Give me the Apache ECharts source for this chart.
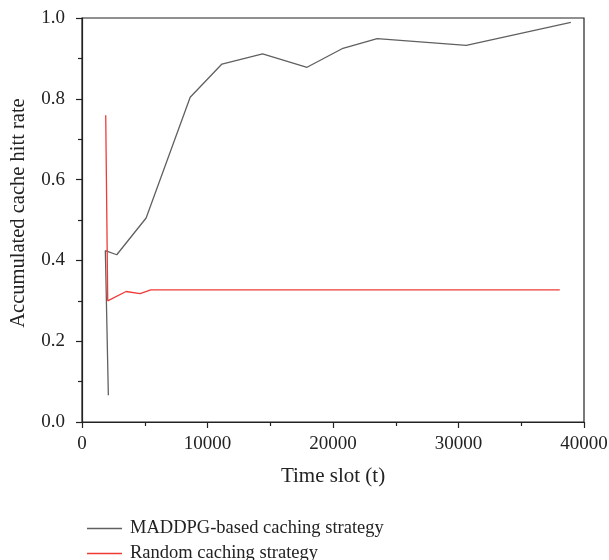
<!DOCTYPE html>
<html>
<head>
<meta charset="utf-8">
<script src="https://cdn.jsdelivr.net/npm/echarts@6/dist/echarts.min.js"></script>
<style>html,body{margin:0;padding:0;background:#fff}#c{width:609px;height:560px}</style>
</head>
<body>
<div id="c"></div>
<script>
const maddpgX = [2100, 1860, 2770, 5110, 8620, 11150, 14390, 17930, 20720, 23520, 30620, 38950];
const maddpgY = [0.066, 0.424, 0.414, 0.505, 0.804, 0.886, 0.911, 0.878, 0.924, 0.949, 0.932, 0.989];
const randomX = [1890, 2050, 3510, 4630, 5480, 38070];
const randomY = [0.759, 0.300, 0.323, 0.318, 0.327, 0.327];
const seriesNames = ['MADDPG-based caching strategy', 'Random caching strategy'];
const xName = 'Time slot (t)';
const yName = 'Accumulated cache hitt rate';

const font = 'Liberation Serif';
const chart = echarts.init(document.getElementById('c'), null, {renderer: 'canvas'});
const zip = (xs, ys) => xs.map((x, i) => [x, ys[i]]);
const legendBase = {
  orient: 'vertical', left: 82,
  itemWidth: 35, itemHeight: 1.5, icon: 'rect',
  textStyle: {fontFamily: font, fontSize: 18.5, color: '#222', padding: [0, 0, 0, 3]}
};
chart.setOption({
  animation: false,
  backgroundColor: '#fff',
  grid: {left: 82, right: 25, top: 18, bottom: 138, show: true, borderColor: '#222', borderWidth: 1.2,
         containLabel: false, outerBoundsMode: 'none'},
  legend: [
    Object.assign({}, legendBase, {top: 514, data: [seriesNames[0]]}),
    Object.assign({}, legendBase, {top: 539, data: [seriesNames[1]]})
  ],
  xAxis: {
    type: 'value', min: 0, max: 40000, interval: 10000,
    name: xName, nameLocation: 'middle', nameGap: 44,
    nameTextStyle: {fontFamily: font, fontSize: 21, color: '#222'},
    axisLine: {show: true, lineStyle: {color: '#222', width: 1.2}},
    axisTick: {show: true, inside: false, length: 6, lineStyle: {color: '#222', width: 1.2}},
    minorTick: {show: true, splitNumber: 2, length: 4, lineStyle: {color: '#222', width: 1.2}},
    axisLabel: {fontFamily: font, fontSize: 19, color: '#222', margin: 13, formatter: v => String(v)},
    splitLine: {show: false}
  },
  yAxis: {
    type: 'value', min: 0, max: 1, interval: 0.2,
    name: yName, nameLocation: 'middle', nameGap: 53, nameRotate: 90,
    nameTextStyle: {fontFamily: font, fontSize: 20.5, color: '#222', padding: [0, 0, 0, 14]},
    axisLine: {show: true, lineStyle: {color: '#222', width: 1.2}},
    axisTick: {show: true, inside: false, length: 6, lineStyle: {color: '#222', width: 1.2}},
    minorTick: {show: true, splitNumber: 2, length: 4, lineStyle: {color: '#222', width: 1.2}},
    axisLabel: {fontFamily: font, fontSize: 19, color: '#222', margin: 17, formatter: v => v.toFixed(1)},
    splitLine: {show: false}
  },
  series: [
    {name: seriesNames[0], type: 'line', data: zip(maddpgX, maddpgY), symbol: 'none',
     lineStyle: {color: '#606060', width: 1.3}, itemStyle: {color: '#606060'}},
    {name: seriesNames[1], type: 'line', data: zip(randomX, randomY), symbol: 'none',
     lineStyle: {color: '#ee3b36', width: 1.3}, itemStyle: {color: '#ee3b36'}}
  ]
});
</script>
</body>
</html>
